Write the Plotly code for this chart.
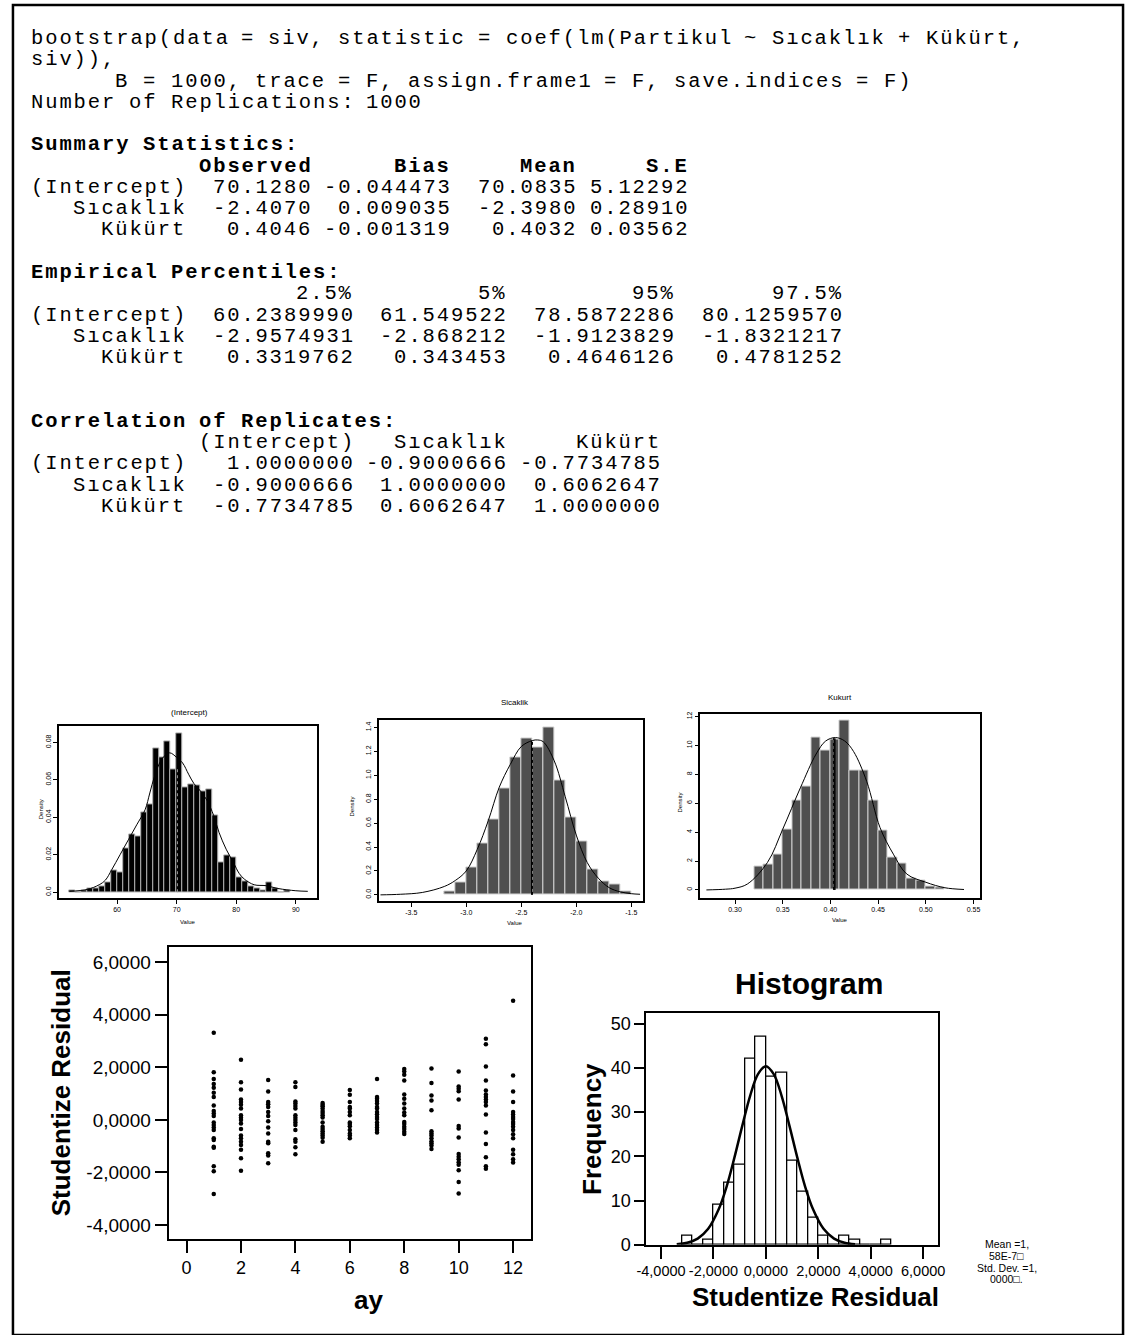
import re
import plotly.graph_objects as go

W, H = 1133, 1335

def X(px):
    return px / W

def Y(py):
    return 1 - py / H

# ---------------- text block (R bootstrap output) ----------------
text_lines = [
    ("bootstrap(data = siv, statistic = coef(lm(Partikul ~ Sıcaklık + Kükürt,", False),
    ("siv)),", False),
    ("      B = 1000, trace = F, assign.frame1 = F, save.indices = F)", False),
    ("Number of Replications: 1000", False),
    ("", False),
    ("Summary Statistics:", True),
    ("            Observed      Bias     Mean     S.E", True),
    ("(Intercept)  70.1280 -0.044473  70.0835 5.12292", False),
    ("   Sıcaklık  -2.4070  0.009035  -2.3980 0.28910", False),
    ("     Kükürt   0.4046 -0.001319   0.4032 0.03562", False),
    ("", False),
    ("Empirical Percentiles:", True),
    ("                   2.5%         5%         95%       97.5%", False),
    ("(Intercept)  60.2389990  61.549522  78.5872286  80.1259570", False),
    ("   Sıcaklık  -2.9574931  -2.868212  -1.9123829  -1.8321217", False),
    ("     Kükürt   0.3319762   0.343453   0.4646126   0.4781252", False),
    ("", False),
    ("", False),
    ("Correlation of Replicates:", True),
    ("            (Intercept)   Sıcaklık     Kükürt", False),
    ("(Intercept)   1.0000000 -0.9000666 -0.7734785", False),
    ("   Sıcaklık  -0.9000666  1.0000000  0.6062647", False),
    ("     Kükürt  -0.7734785  0.6062647  1.0000000", False),
]

# ---------------- bootstrap histogram data ----------------
int_bin_left = [52, 53, 54, 55, 56, 57, 58, 59, 60, 61, 62, 63, 64, 65, 66, 67, 68, 69, 70,
                71, 72, 73, 74, 75, 76, 77, 78, 79, 80, 81, 82, 83, 84, 85, 86, 87, 88]
int_density = [0.001, 0.0, 0.001, 0.002, 0.002, 0.003, 0.0053, 0.0117, 0.0108, 0.0233, 0.0308,
               0.0299, 0.0426, 0.0467, 0.0768, 0.0718, 0.0806, 0.0658, 0.085, 0.0559, 0.0577,
               0.0568, 0.0538, 0.055, 0.041, 0.016, 0.0198, 0.0185, 0.008, 0.006, 0.003, 0.002,
               0.001, 0.005, 0.002, 0.0, 0.001]
int_bin_width = 1.0
int_curve_x = [52, 55, 57, 58.05, 59.1, 60.5, 61.9, 63.3, 64.7, 65.5, 66.3, 67.5, 68.8, 70, 71,
               72, 72.9, 74, 75.1, 76.2, 77.1, 78.3, 79.5, 80.5, 81.4, 83, 85, 87, 90, 92]
int_curve_y = [0.0005, 0.0015, 0.004, 0.0065, 0.012, 0.02, 0.028, 0.036, 0.044, 0.053, 0.062,
               0.071, 0.0744, 0.072, 0.069, 0.063, 0.058, 0.054, 0.049, 0.041, 0.032, 0.023,
               0.016, 0.010, 0.0069, 0.004, 0.0035, 0.002, 0.0008, 0.0005]
int_observed = 70.128

sic_bin_left = [-3.2, -3.1, -3.0, -2.9, -2.8, -2.7, -2.6, -2.5, -2.4, -2.3, -2.2, -2.1, -2.0,
                -1.9, -1.8, -1.7, -1.6]
sic_density = [0.03, 0.10, 0.23, 0.43, 0.63, 0.89, 1.15, 1.31, 1.23, 1.40, 0.955, 0.645, 0.45,
               0.21, 0.11, 0.09, 0.03]
sic_bin_width = 0.1
sic_curve_x = [-3.78, -3.6, -3.4, -3.2, -3.1, -3.0, -2.9, -2.8, -2.7, -2.6, -2.5, -2.4, -2.35,
               -2.3, -2.2, -2.1, -2.0, -1.9, -1.8, -1.7, -1.6, -1.5, -1.42]
sic_curve_y = [0.0, 0.005, 0.02, 0.07, 0.12, 0.2, 0.38, 0.62, 0.9, 1.09, 1.24, 1.29, 1.295,
               1.28, 1.12, 0.82, 0.5, 0.27, 0.14, 0.06, 0.025, 0.01, 0.005]
sic_observed = -2.407
sic_mean = -2.398

kuk_bin_left = [0.32, 0.33, 0.34, 0.35, 0.36, 0.37, 0.38, 0.39, 0.40, 0.41, 0.42, 0.43, 0.44,
                0.45, 0.46, 0.47, 0.48, 0.49, 0.50, 0.51]
kuk_density = [1.63, 1.74, 2.43, 4.19, 6.19, 7.17, 10.54, 9.62, 10.38, 11.75, 8.25, 8.25, 6.19,
               4.12, 2.25, 1.83, 0.82, 0.64, 0.2, 0.15]
kuk_bin_width = 0.01
kuk_curve_x = [0.27, 0.29, 0.30, 0.313, 0.334, 0.35, 0.3685, 0.385, 0.395, 0.4053, 0.415,
               0.4243, 0.438, 0.452, 0.466, 0.48, 0.50, 0.52, 0.54]
kuk_curve_y = [0.0, 0.05, 0.12, 0.41, 1.9, 4.2, 7.06, 9.4, 10.3, 10.54, 10.3, 9.57, 7.51, 4.31,
               2.47, 1.1, 0.53, 0.15, 0.03]
kuk_observed = 0.4046
kuk_mean = 0.4032

# ---------------- studentized residuals by month ----------------
month_residuals = {
    1: [3.32, 1.81, 1.56, 1.37, 1.22, 1.03, 0.87, 0.55, 0.34, 0.24, 0.15, -0.10, -0.20, -0.29,
        -0.39, -0.70, -0.77, -1.02, -1.06, -1.77, -1.96, -2.82],
    2: [2.29, 1.43, 1.16, 0.78, 0.68, 0.58, 0.43, 0.18, 0.08, -0.01, -0.14, -0.35, -0.60, -0.70,
        -0.83, -0.96, -1.14, -1.46, -1.94],
    3: [1.52, 1.08, 0.68, 0.59, 0.49, 0.30, 0.15, -0.05, -0.29, -0.52, -0.83, -0.89, -1.27,
        -1.36, -1.65],
    4: [1.43, 1.25, 0.70, 0.62, 0.53, 0.43, 0.18, 0.08, -0.01, -0.10, -0.20, -0.39, -0.74,
        -0.83, -1.04, -1.31],
    5: [0.64, 0.58, 0.52, 0.43, 0.34, 0.26, 0.18, 0.09, -0.10, -0.26, -0.35, -0.43, -0.52,
        -0.60, -0.68, -0.83],
    6: [1.14, 0.96, 0.68, 0.49, 0.43, 0.30, 0.18, -0.10, -0.16, -0.24, -0.39, -0.52, -0.60,
        -0.70],
    7: [1.56, 0.87, 0.80, 0.72, 0.62, 0.49, 0.43, 0.30, 0.21, 0.11, 0.03, -0.10, -0.20, -0.29,
        -0.39, -0.48],
    8: [1.94, 1.84, 1.72, 1.50, 0.97, 0.80, 0.62, 0.43, 0.28, 0.18, -0.08, -0.16, -0.26, -0.35,
        -0.45, -0.54],
    9: [1.96, 1.40, 0.93, 0.74, 0.37, -0.43, -0.52, -0.60, -0.70, -0.81, -0.89, -0.98, -1.11],
    10: [1.84, 1.27, 1.18, 1.09, 0.78, -0.23, -0.33, -0.67, -1.30, -1.40, -1.50, -1.61, -1.71,
         -1.92, -2.37, -2.80],
    11: [3.09, 2.88, 2.03, 1.50, 1.12, 0.97, 0.87, 0.78, 0.68, 0.55, 0.20, -0.48, -0.92, -1.42,
         -1.77, -1.86],
    12: [4.54, 1.69, 1.08, 0.68, 0.30, 0.20, 0.11, 0.03, -0.08, -0.16, -0.26, -0.39, -0.55,
         -0.70, -1.14, -1.31, -1.50, -1.62],
}
scatter_yticks = [-4, -2, 0, 2, 4, 6]
scatter_yticklabels = ["-4,0000", "-2,0000", "0,0000", "2,0000", "4,0000", "6,0000"]
scatter_xticks = [0, 2, 4, 6, 8, 10, 12]

# ---------------- SPSS histogram of studentized residuals ----------------
hist_bin_left = [-3.2, -2.8, -2.4, -2.0, -1.6, -1.2, -0.8, -0.4, 0.0, 0.4, 0.8, 1.2, 1.6, 2.0,
                 2.4, 2.8, 3.2, 3.6, 4.0, 4.4]
hist_counts = [2, 0, 1, 9, 14, 18, 42, 47, 38, 39, 19, 12, 6, 2, 0, 2, 1, 0, 0, 1]
hist_bin_width = 0.4
normal_x = [-3.4, -3.0, -2.6, -2.2, -1.8, -1.5, -1.2, -0.9, -0.6, -0.3, 0.0, 0.3, 0.6, 0.9,
            1.2, 1.5, 1.8, 2.2, 2.6, 3.0, 3.4]
normal_y = [0.12, 0.45, 1.37, 3.59, 8.0, 13.1, 19.7, 26.9, 33.7, 38.6, 40.4, 38.6, 33.7, 26.9,
            19.7, 13.1, 8.0, 3.59, 1.37, 0.45, 0.12]
hist_xticks = [-4, -2, 0, 2, 4, 6]
hist_xticklabels = ["-4,0000", "-2,0000", "0,0000", "2,0000", "4,0000", "6,0000"]
hist_yticks = [0, 10, 20, 30, 40, 50]
stats_note = ["Mean =1,", "58E-7\u25a1", "Std. Dev. =1,", "0000\u25a1."]

# ================= figure =================
fig = go.Figure()
SANS = "Liberation Sans"
MONO = "Liberation Mono"


def centers(lefts, w):
    return [l + w / 2 for l in lefts]


panels = [
    dict(ax="", lefts=int_bin_left, dens=int_density, w=int_bin_width, cx=int_curve_x,
         cy=int_curve_y, fill="black", edge="#b0b0b0"),
    dict(ax="2", lefts=sic_bin_left, dens=sic_density, w=sic_bin_width, cx=sic_curve_x,
         cy=sic_curve_y, fill="#4f4f4f", edge="#d0d0d0"),
    dict(ax="3", lefts=kuk_bin_left, dens=kuk_density, w=kuk_bin_width, cx=kuk_curve_x,
         cy=kuk_curve_y, fill="#4f4f4f", edge="#d0d0d0"),
]
for p in panels:
    fig.add_trace(go.Bar(x=centers(p["lefts"], p["w"]), y=p["dens"], width=p["w"],
                         marker=dict(color=p["fill"], line=dict(color=p["edge"], width=1)),
                         xaxis="x" + p["ax"], yaxis="y" + p["ax"], showlegend=False))
    fig.add_trace(go.Scatter(x=p["cx"], y=p["cy"], mode="lines",
                             line=dict(color="black", width=1, shape="spline"),
                             xaxis="x" + p["ax"], yaxis="y" + p["ax"], showlegend=False))

fig.add_trace(go.Scatter(x=[int_observed, int_observed], y=[0, 0.066], mode="lines",
                         line=dict(color="#999999", width=1, dash="dot"), xaxis="x", yaxis="y",
                         showlegend=False))
fig.add_trace(go.Scatter(x=[sic_observed, sic_observed], y=[0, 1.29], mode="lines",
                         line=dict(color="black", width=1), xaxis="x2", yaxis="y2", showlegend=False))
fig.add_trace(go.Scatter(x=[sic_mean, sic_mean], y=[0, 1.29], mode="lines",
                         line=dict(color="black", width=1, dash="dot"), xaxis="x2", yaxis="y2",
                         showlegend=False))
fig.add_trace(go.Scatter(x=[kuk_observed, kuk_observed], y=[0, 10.5], mode="lines",
                         line=dict(color="black", width=1.5), xaxis="x3", yaxis="y3", showlegend=False))
fig.add_trace(go.Scatter(x=[kuk_mean, kuk_mean], y=[0, 10.5], mode="lines",
                         line=dict(color="black", width=1, dash="dot"), xaxis="x3", yaxis="y3",
                         showlegend=False))

sx, sy = [], []
for m, vals in month_residuals.items():
    for v in vals:
        sx.append(m)
        sy.append(v)
fig.add_trace(go.Scatter(x=sx, y=sy, mode="markers", marker=dict(color="black", size=4.5),
                         xaxis="x4", yaxis="y4", showlegend=False))

fig.add_trace(go.Bar(x=centers(hist_bin_left, hist_bin_width), y=hist_counts, width=hist_bin_width,
                     marker=dict(color="white", line=dict(color="black", width=1.3)),
                     xaxis="x5", yaxis="y5", showlegend=False))
fig.add_trace(go.Scatter(x=normal_x, y=normal_y, mode="lines",
                         line=dict(color="black", width=2.5, shape="spline"),
                         xaxis="x5", yaxis="y5", showlegend=False))


def small_axes(xdom, ydom, xr, yr, xt, xtl, yt, ytl):
    common = dict(showline=True, mirror=True, linecolor="black", linewidth=1.5, ticks="outside",
                  ticklen=4, tickwidth=1, tickcolor="black", showgrid=False, zeroline=False,
                  tickfont=dict(family=SANS, size=7, color="black"))
    xa = dict(common, domain=[X(xdom[0]), X(xdom[1])], range=xr, tickvals=xt, ticktext=xtl)
    ya = dict(common, domain=[Y(ydom[1]), Y(ydom[0])], range=yr, tickvals=yt, ticktext=ytl,
              tickangle=-90)
    return xa, ya


xa1, ya1 = small_axes((50, 312), (731, 904), [50.3, 93.6], [-0.003, 0.0885],
                      [60, 70, 80, 90], ["60", "70", "80", "90"],
                      [0, 0.02, 0.04, 0.06, 0.08], ["0.0", "0.02", "0.04", "0.06", "0.08"])
xa2, ya2 = small_axes((375, 643), (725, 907), [-3.79, -1.39], [-0.05, 1.458],
                      [-3.5, -3.0, -2.5, -2.0, -1.5], ["-3.5", "-3.0", "-2.5", "-2.0", "-1.5"],
                      [0, 0.2, 0.4, 0.6, 0.8, 1.0, 1.2, 1.4],
                      ["0.0", "0.2", "0.4", "0.6", "0.8", "1.0", "1.2", "1.4"])
xa3, ya3 = small_axes((701, 985), (718, 904), [0.2638, 0.557], [-0.55, 12.2],
                      [0.30, 0.35, 0.40, 0.45, 0.50, 0.55],
                      ["0.30", "0.35", "0.40", "0.45", "0.50", "0.55"],
                      [0, 2, 4, 6, 8, 10, 12], ["0", "2", "4", "6", "8", "10", "12"])
xa1["anchor"], ya1["anchor"] = "y", "x"
xa2["anchor"], ya2["anchor"] = "y2", "x2"
xa3["anchor"], ya3["anchor"] = "y3", "x3"

big_common = dict(showline=True, mirror=True, linecolor="black", linewidth=2, ticks="outside",
                  ticklen=12, tickwidth=2, tickcolor="black", showgrid=False, zeroline=False,
                  tickfont=dict(family=SANS, size=18, color="black"))
xa4 = dict(big_common, domain=[X(161), X(529)], range=[-0.66, 12.66], tickvals=scatter_xticks,
           anchor="y4")
ya4 = dict(big_common, domain=[Y(1248), Y(954)], range=[-4.528, 6.566], tickvals=scatter_yticks,
           ticktext=scatter_yticklabels, anchor="x4",
           tickfont=dict(family=SANS, size=19, color="black"))
xa5 = dict(big_common, domain=[X(646), X(942)], range=[-4.56, 6.56], tickvals=hist_xticks,
           ticktext=hist_xticklabels, anchor="y5",
           tickfont=dict(family=SANS, size=14.5, color="black"))
ya5 = dict(big_common, domain=[Y(1254), Y(1020)], range=[0, 52.46], tickvals=hist_yticks,
           anchor="x5", ticklen=10)

fig.update_layout(
    width=W, height=H, margin=dict(l=0, r=0, t=0, b=0),
    paper_bgcolor="white", plot_bgcolor="white", bargap=0, barmode="overlay",
    xaxis=xa1, yaxis=ya1, xaxis2=xa2, yaxis2=ya2, xaxis3=xa3, yaxis3=ya3,
    xaxis4=xa4, yaxis4=ya4, xaxis5=xa5, yaxis5=ya5,
)

annotations = []
# R text block: one text per word, set on a 14.2 px monospace character grid
CH, X0 = 14.2, 20
MONO_SIZE = 20.5
spacing = CH - 0.6 * MONO_SIZE
line_y0, line_dy = 37, 21.45
for i, (txt, bold) in enumerate(text_lines):
    yline = line_y0 + i * line_dy
    for mt in re.finditer(r"\S+", txt):
        tok = mt.group(0)
        t = '<span style="letter-spacing:%.2fpx">%s</span>' % (spacing, tok)
        if bold:
            t = "<b>" + t + "</b>"
        annotations.append(dict(
            x=X(X0 + mt.start() * CH - 1), y=Y(yline), xref="paper", yref="paper",
            text=t, showarrow=False, xanchor="left", yanchor="middle",
            font=dict(family=MONO, size=MONO_SIZE, color="black")))


def ann(x, y, text, size, bold=False, angle=0, family=SANS):
    annotations.append(dict(x=X(x), y=Y(y), xref="paper", yref="paper",
                            text=("<b>" + text + "</b>") if bold else text, showarrow=False,
                            xanchor="center", yanchor="middle", textangle=angle,
                            font=dict(family=family, size=size, color="black")))


ann(182, 717, "(Intercept)", 8)
ann(513, 707, "Sicaklik", 8)
ann(843, 702, "Kukurt", 8)
ann(31, 815, "Density", 6, angle=-90)
ann(347, 812, "Density", 6, angle=-90)
ann(680, 808, "Density", 6, angle=-90)
ann(181, 928, "Value", 6)
ann(513, 929, "Value", 6)
ann(843, 926, "Value", 6)

ann(52, 1101, "Studentize Residual", 26, bold=True, angle=-90)
ann(364, 1310, "ay", 26, bold=True)

ann(811, 990, "Histogram", 30, bold=True)
ann(591, 1137, "Frequency", 26, bold=True, angle=-90)
ann(818, 1307, "Studentize Residual", 26, bold=True)
for yy, txt in zip([1253, 1265, 1277, 1289], stats_note):
    ann(1012, yy, txt, 10.5)

fig.update_layout(annotations=annotations)

fig.add_shape(type="rect", xref="paper", yref="paper", x0=X(3), x1=X(1130), y0=Y(1345), y1=Y(3),
              line=dict(color="black", width=2.5), fillcolor="rgba(0,0,0,0)")

fig.write_html("out.html")
